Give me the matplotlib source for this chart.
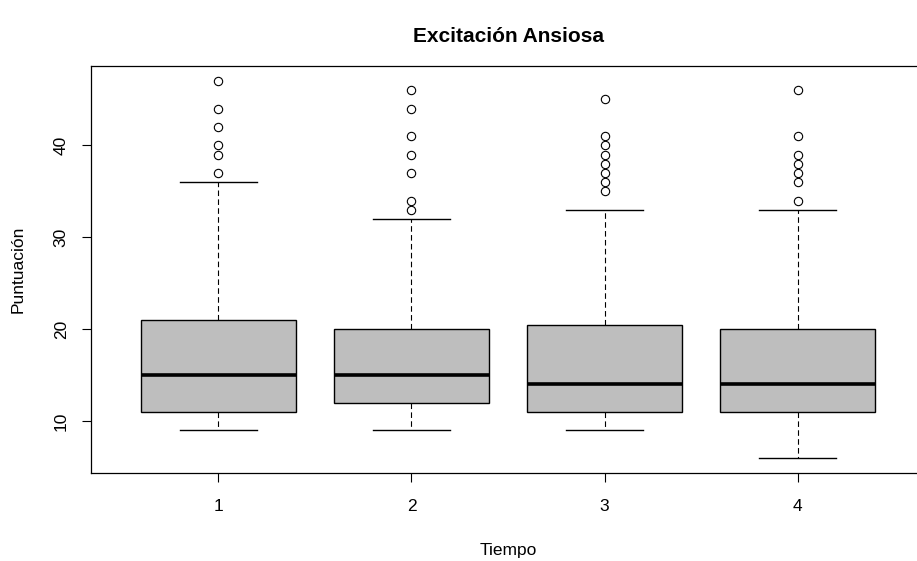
import matplotlib
matplotlib.use("Agg")
import matplotlib.pyplot as plt

# valores (Tiempo 1..4)
tiempos = [1, 2, 3, 4]
minimos = [9, 9, 9, 6]
q1 = [11, 12, 11, 11]
medianas = [15, 15, 14, 14]
q3 = [21, 20, 20.5, 20]
maximos = [36, 32, 33, 33]
atipicos = [
    [37, 39, 40, 42, 44, 47],
    [33, 34, 37, 39, 41, 44, 46],
    [35, 36, 37, 38, 39, 40, 41, 45],
    [34, 36, 37, 38, 39, 41, 46],
]

plt.rcParams['font.family'] = ['Liberation Sans', 'DejaVu Sans']

stats = []
for i in range(len(tiempos)):
    stats.append({
        'whislo': minimos[i], 'q1': q1[i], 'med': medianas[i],
        'q3': q3[i], 'whishi': maximos[i], 'fliers': atipicos[i],
    })

fig = plt.figure(figsize=(9.17, 5.61), dpi=100)
W, H = 917, 561
izq, der, arriba, abajo = 91, 925, 66, 473
ax = fig.add_axes([izq / W, (H - abajo) / H, (der - izq) / W, (abajo - arriba) / H])

ax.bxp(stats, positions=tiempos, widths=0.8, patch_artist=True,
       boxprops=dict(facecolor='#bebebe', edgecolor='black', linewidth=1.0),
       medianprops=dict(color='black', linewidth=2.6, solid_capstyle='butt'),
       whiskerprops=dict(color='black', linewidth=0.8, linestyle=(0, (5, 3))),
       capprops=dict(color='black', linewidth=1.0),
       capwidths=0.4,
       flierprops=dict(marker='o', markersize=6, markerfacecolor='none',
                       markeredgecolor='black', markeredgewidth=0.8))

ax.set_xlim(0.34, 4.66)
ax.set_ylim(4.36, 48.64)
ax.set_xticks(tiempos)
ax.set_xticklabels([str(t) for t in tiempos])
ax.set_yticks([10, 20, 30, 40])
ax.set_yticklabels(['10', '20', '30', '40'], rotation=90, va='center')
ax.tick_params(axis='both', length=6.5, width=0.8, labelsize=12.5)
ax.tick_params(axis='x', pad=12)
ax.tick_params(axis='y', pad=9.5)
for s in ax.spines.values():
    s.set_linewidth(0.9)

ax.set_xlabel('Tiempo', fontsize=12.5, labelpad=21)
ax.set_ylabel('Puntuación', fontsize=12.5, labelpad=20)
ax.set_title('Excitación Ansiosa', fontsize=15, fontweight='bold', pad=17)

fig.savefig('out.png', dpi=100)
